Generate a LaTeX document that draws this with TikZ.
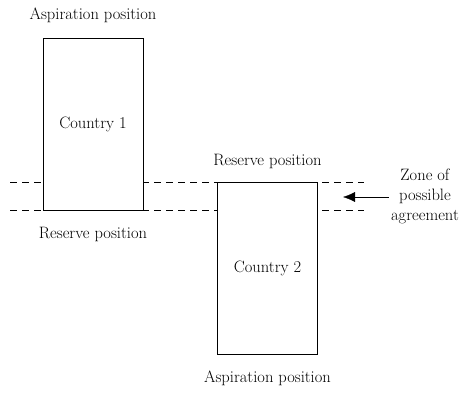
\documentclass[tikz,border=0pt]{standalone}
\usetikzlibrary{arrows.meta}
\tikzset{
  country/.style={draw,fill=white,minimum width=100pt,minimum height=172pt,inner sep=0pt},
  label/.style={inner sep=0pt},
}
\begin{document}
\begin{tikzpicture}[x=1pt,y=-1pt,font=\fontsize{16.5}{20}\selectfont]
	\useasboundingbox (0,0) rectangle (465,392);
	% dashed band
	\coordinate (LT) at (10,182);
	\coordinate (RT) at (364,182);
	\coordinate (LB) at (10,210);
	\coordinate (RB) at (364,210);
	\draw[dash pattern=on 7pt off 5pt] (LT) -- (RT);
	\draw[dash pattern=on 7pt off 5pt] (LB) -- (RB);
	% countries
	\draw (93,124) node[country](C1) {Country 1};
	\draw (267.5,268) node[country](C2) {Country 2};
	\draw (C1.north) ++(0,-23) node[label](A1) {Aspiration position};
	\draw (C1.south) ++(0,24) node[label](R1) {Reserve position};
	\draw (C2.north) ++(0,-20) node[label](R2) {Reserve position};
	\draw (C2.south) ++(0,24) node[label](A2) {Aspiration position};
	% zone
	\draw (425,196) node[label,align=center](Z) {Zone of\\possible\\agreement};
	\coordinate (Zt) at (343,197);
	\draw[-{Latex[length=12pt,width=10pt]}] (Z.west |- Zt) ++(-2,0) -- (Zt);
\end{tikzpicture}
\end{document}
